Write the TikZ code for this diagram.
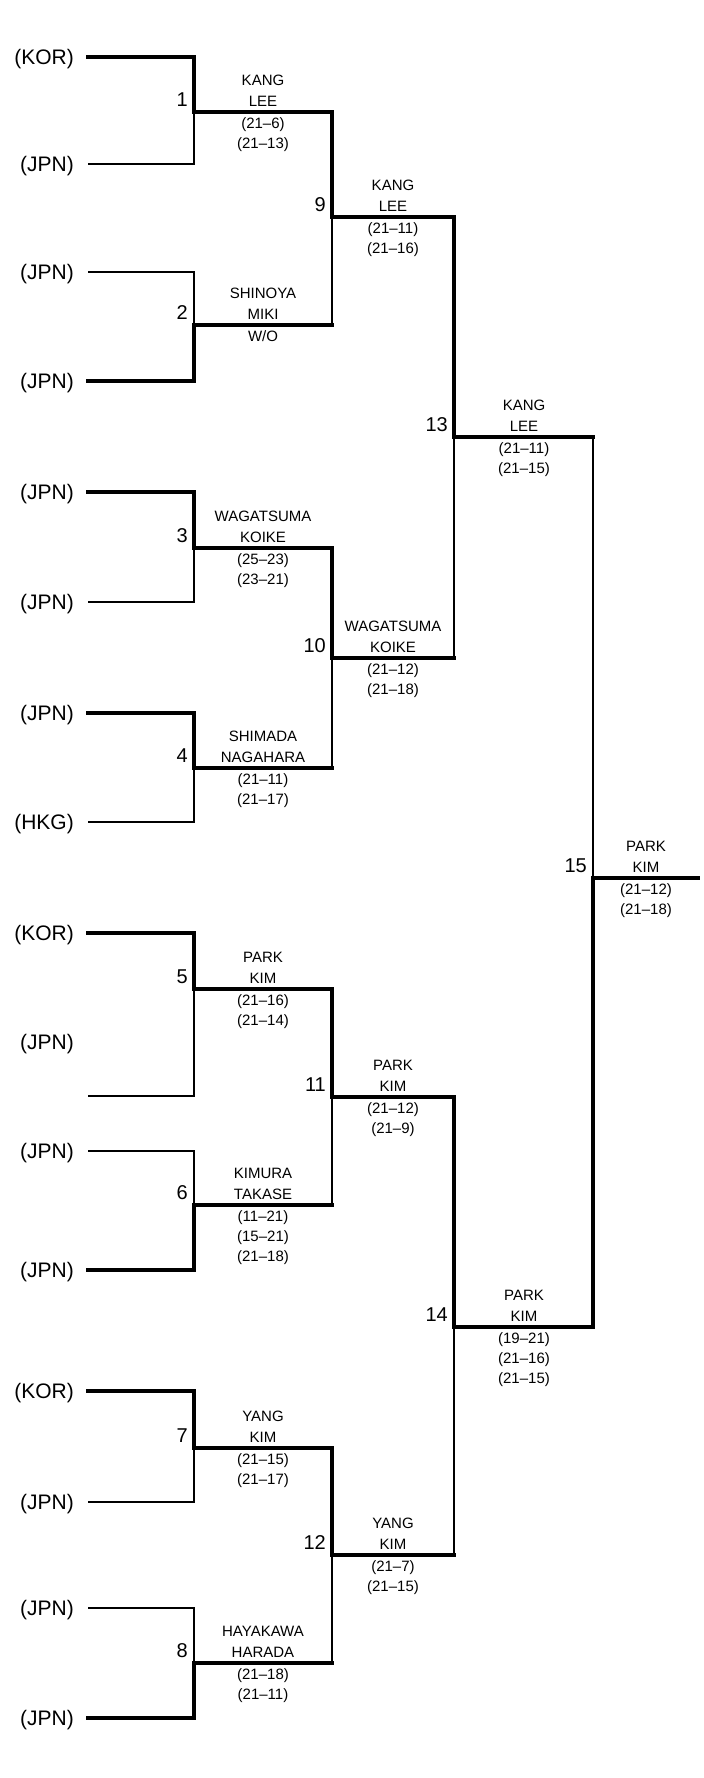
\documentclass[tikz,border=0pt]{standalone}
\usepackage{fontspec}
\setmainfont{Liberation Sans}
\begin{document}
\begin{tikzpicture}[x=1pt,y=-1pt,
  thinline/.style={line width=1.3pt,line join=miter},
  winline/.style={line width=4.4pt,line join=miter,line cap=rect},
  country/.style={anchor=base east,inner sep=0pt,font=\fontsize{21}{21}\selectfont},
  matchno/.style={anchor=base east,inner sep=0pt,font=\fontsize{20}{20}\selectfont},
  res/.style={anchor=base,inner sep=0pt,font=\fontsize{15}{15}\selectfont}]
\useasboundingbox (0,0) rectangle (704,1778);
% entrant line starts
\coordinate (e1) at (88,57);
\coordinate (e2) at (88,164);
\coordinate (e3) at (88,272);
\coordinate (e4) at (88,381);
\coordinate (e5) at (88,492);
\coordinate (e6) at (88,602);
\coordinate (e7) at (88,713);
\coordinate (e8) at (88,822);
\coordinate (e9) at (88,933);
\coordinate (e10) at (88,1096);
\coordinate (e11) at (88,1151);
\coordinate (e12) at (88,1270);
\coordinate (e13) at (88,1391);
\coordinate (e14) at (88,1502);
\coordinate (e15) at (88,1608);
\coordinate (e16) at (88,1718);
% match points
\coordinate (m1) at (194,112);
\coordinate (m2) at (194,325);
\coordinate (m3) at (194,548);
\coordinate (m4) at (194,768);
\coordinate (m5) at (194,989);
\coordinate (m6) at (194,1205);
\coordinate (m7) at (194,1448);
\coordinate (m8) at (194,1663);
\coordinate (m9) at (332,217);
\coordinate (m10) at (332,658);
\coordinate (m11) at (332,1097);
\coordinate (m12) at (332,1555);
\coordinate (m13) at (454,437);
\coordinate (m14) at (454,1327);
\coordinate (m15) at (593,878);
\coordinate (fin) at (698,878);
% country labels
\node[country] (c1) at (74,64) {(KOR)};
\node[country] (c2) at (74,171) {(JPN)};
\node[country] (c3) at (74,279) {(JPN)};
\node[country] (c4) at (74,388) {(JPN)};
\node[country] (c5) at (74,499) {(JPN)};
\node[country] (c6) at (74,609) {(JPN)};
\node[country] (c7) at (74,720) {(JPN)};
\node[country] (c8) at (74,829) {(HKG)};
\node[country] (c9) at (74,940) {(KOR)};
\node[country] (c10) at (74,1049) {(JPN)};
\node[country] (c11) at (74,1158) {(JPN)};
\node[country] (c12) at (74,1277) {(JPN)};
\node[country] (c13) at (74,1398) {(KOR)};
\node[country] (c14) at (74,1509) {(JPN)};
\node[country] (c15) at (74,1615) {(JPN)};
\node[country] (c16) at (74,1725) {(JPN)};
% thin lines
\draw[thinline] (e2) -| (m1);
\draw[thinline] (e3) -| (m2);
\draw[thinline] (m2 -| m9) -- (m9);
\draw[thinline] (e6) -| (m3);
\draw[thinline] (e8) -| (m4);
\draw[thinline] (m4 -| m10) -- (m10);
\draw[thinline] (m10 -| m13) -- (m13);
\draw[thinline] (e10) -| (m5);
\draw[thinline] (e11) -| (m6);
\draw[thinline] (m6 -| m11) -- (m11);
\draw[thinline] (e14) -| (m7);
\draw[thinline] (e15) -| (m8);
\draw[thinline] (m8 -| m12) -- (m12);
\draw[thinline] (m12 -| m14) -- (m14);
\draw[thinline] (m13 -| m15) -- (m15);
% winner lines
\draw[winline] (e1) -| (m1) -- (m1 -| m9) -- (m9) -- (m9 -| m13) -- (m13) -- (m13 -| m15);
\draw[winline] (e4) -| (m2) -- (m2 -| m9);
\draw[winline] (e5) -| (m3) -- (m3 -| m10) -- (m10) -- (m10 -| m13);
\draw[winline] (e7) -| (m4) -- (m4 -| m10);
\draw[winline] (e9) -| (m5) -- (m5 -| m11) -- (m11) -- (m11 -| m14) -- (m14) -- (m14 -| m15) -- (m15) -- (fin);
\draw[winline] (e12) -| (m6) -- (m6 -| m11);
\draw[winline] (e13) -| (m7) -- (m7 -| m12) -- (m12) -- (m12 -| m14);
\draw[winline] (e16) -| (m8) -- (m8 -| m12);
% match numbers
\foreach \i in {1,...,15} {
  \node[matchno] (n\i) at ([shift={(-6,-6)}]m\i) {\i};
}
% results: round 1 (x=263)
\node[res] (r1a) at (263,85.5) {KANG};
\node[res] (r1b) at (263,106) {LEE};
\node[res] (r1c) at (263,128.5) {(21–6)};
\node[res] (r1d) at (263,148.5) {(21–13)};
\node[res] (r2a) at (263,298.5) {SHINOYA};
\node[res] (r2b) at (263,319) {MIKI};
\node[res] (r2c) at (263,341.5) {W/O};
\node[res] (r3a) at (263,521.5) {WAGATSUMA};
\node[res] (r3b) at (263,542) {KOIKE};
\node[res] (r3c) at (263,564.5) {(25–23)};
\node[res] (r3d) at (263,584.5) {(23–21)};
\node[res] (r4a) at (263,741.5) {SHIMADA};
\node[res] (r4b) at (263,762) {NAGAHARA};
\node[res] (r4c) at (263,784.5) {(21–11)};
\node[res] (r4d) at (263,804.5) {(21–17)};
\node[res] (r5a) at (263,962.5) {PARK};
\node[res] (r5b) at (263,983) {KIM};
\node[res] (r5c) at (263,1005.5) {(21–16)};
\node[res] (r5d) at (263,1025.5) {(21–14)};
\node[res] (r6a) at (263,1178.5) {KIMURA};
\node[res] (r6b) at (263,1199) {TAKASE};
\node[res] (r6c) at (263,1221.5) {(11–21)};
\node[res] (r6d) at (263,1241.5) {(15–21)};
\node[res] (r6e) at (263,1261.5) {(21–18)};
\node[res] (r7a) at (263,1421.5) {YANG};
\node[res] (r7b) at (263,1442) {KIM};
\node[res] (r7c) at (263,1464.5) {(21–15)};
\node[res] (r7d) at (263,1484.5) {(21–17)};
\node[res] (r8a) at (263,1636.5) {HAYAKAWA};
\node[res] (r8b) at (263,1657) {HARADA};
\node[res] (r8c) at (263,1679.5) {(21–18)};
\node[res] (r8d) at (263,1699.5) {(21–11)};
% round 2 (x=393)
\node[res] (r9a) at (393,190.5) {KANG};
\node[res] (r9b) at (393,211) {LEE};
\node[res] (r9c) at (393,233.5) {(21–11)};
\node[res] (r9d) at (393,253.5) {(21–16)};
\node[res] (r10a) at (393,631.5) {WAGATSUMA};
\node[res] (r10b) at (393,652) {KOIKE};
\node[res] (r10c) at (393,674.5) {(21–12)};
\node[res] (r10d) at (393,694.5) {(21–18)};
\node[res] (r11a) at (393,1070.5) {PARK};
\node[res] (r11b) at (393,1091) {KIM};
\node[res] (r11c) at (393,1113.5) {(21–12)};
\node[res] (r11d) at (393,1133.5) {(21–9)};
\node[res] (r12a) at (393,1528.5) {YANG};
\node[res] (r12b) at (393,1549) {KIM};
\node[res] (r12c) at (393,1571.5) {(21–7)};
\node[res] (r12d) at (393,1591.5) {(21–15)};
% round 3 (x=524)
\node[res] (r13a) at (524,410.5) {KANG};
\node[res] (r13b) at (524,431) {LEE};
\node[res] (r13c) at (524,453.5) {(21–11)};
\node[res] (r13d) at (524,473.5) {(21–15)};
\node[res] (r14a) at (524,1300.5) {PARK};
\node[res] (r14b) at (524,1321) {KIM};
\node[res] (r14c) at (524,1343.5) {(19–21)};
\node[res] (r14d) at (524,1363.5) {(21–16)};
\node[res] (r14e) at (524,1383.5) {(21–15)};
% final (x=646)
\node[res] (r15a) at (646,851.5) {PARK};
\node[res] (r15b) at (646,872) {KIM};
\node[res] (r15c) at (646,894.5) {(21–12)};
\node[res] (r15d) at (646,914.5) {(21–18)};
\end{tikzpicture}
\end{document}
